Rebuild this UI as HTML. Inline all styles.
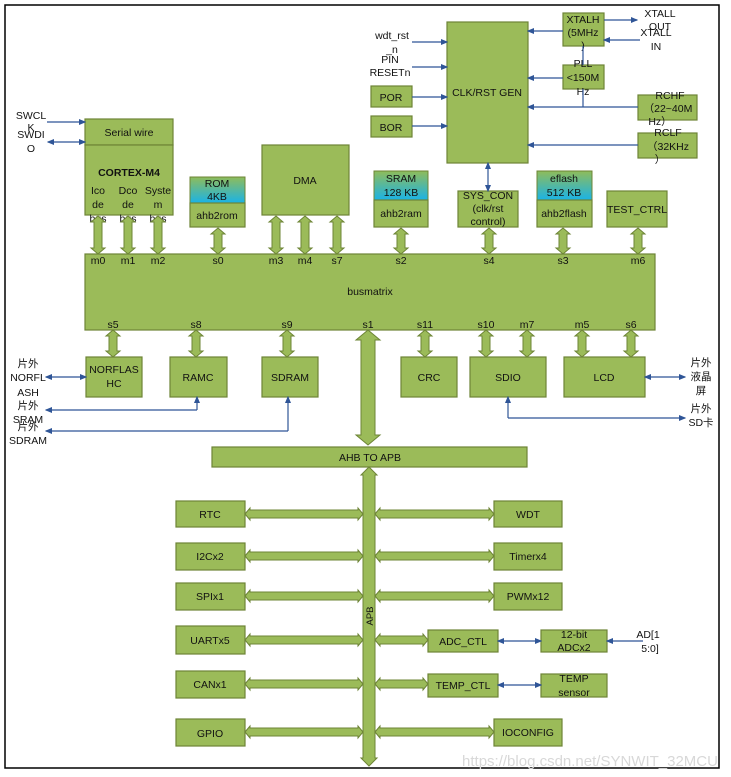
<!DOCTYPE html>
<html><head><meta charset="utf-8"><style>
body{margin:0;background:#fff;}
svg{display:block;font-family:"Liberation Sans","Noto Sans CJK SC",sans-serif;}
text{font-size:10.5px;fill:#111;text-anchor:middle;}
.b{fill:#9bbb59;stroke:#6d8436;stroke-width:1.2;}
.l{stroke:#2f5597;stroke-width:1.2;fill:none;}
</style></head><body>
<svg id="s" width="731" height="777" viewBox="0 0 731 777">
<defs>
<linearGradient id="g" x1="0" y1="0" x2="0" y2="1"><stop offset="0" stop-color="#8fbc5a"/><stop offset="1" stop-color="#1ab3e6"/></linearGradient>
<marker id="a" markerWidth="6" markerHeight="6" refX="5" refY="3" orient="auto"><path d="M0,0.5 L6,3 L0,5.5z" fill="#2f5597"/></marker>
<marker id="a2" markerWidth="6" markerHeight="6" refX="1" refY="3" orient="auto"><path d="M6,0.5 L0,3 L6,5.5z" fill="#2f5597"/></marker>
</defs>
<rect x="5" y="5" width="714" height="763" fill="none" stroke="#000" stroke-width="1.5"/>
<!-- top boxes -->
<rect class="b" x="85" y="119" width="88" height="26"/><text x="129" y="136">Serial wire</text>
<rect class="b" x="85" y="145" width="88" height="70"/><text x="129" y="176" style="font-weight:bold">CORTEX-M4</text>
<text x="98" y="194">Ico</text><text x="98" y="208">de</text><text x="98" y="222">bus</text>
<text x="128" y="194">Dco</text><text x="128" y="208">de</text><text x="128" y="222">bus</text>
<text x="158" y="194">Syste</text><text x="158" y="208">m</text><text x="158" y="222">bus</text>
<rect x="190" y="177" width="55" height="26" fill="url(#g)" stroke="#6d8436"/><text x="217" y="187">ROM</text><text x="217" y="200">4KB</text>
<rect class="b" x="190" y="203" width="55" height="24"/><text x="217" y="219">ahb2rom</text>
<rect class="b" x="262" y="145" width="87" height="70"/><text x="305" y="184">DMA</text>
<rect class="b" x="447" y="22" width="81" height="141"/><text x="487" y="96">CLK/RST GEN</text>
<rect class="b" x="563" y="13" width="41" height="33"/><text x="583" y="23">XTALH</text><text x="583" y="36">(5MHz</text><text x="583" y="49">)</text>
<rect class="b" x="563" y="65" width="41" height="24"/><text x="583" y="67">PLL</text><text x="583" y="81">&lt;150M</text><text x="583" y="95">Hz</text>
<rect class="b" x="638" y="95" width="59" height="25"/><text x="670" y="99">RCHF</text><text x="668" y="112">（22~40M</text><text x="660" y="125">Hz）</text>
<rect class="b" x="638" y="133" width="59" height="25"/><text x="668" y="136">RCLF</text><text x="668" y="150">（32KHz</text><text x="660" y="163">）</text>
<rect class="b" x="371" y="86" width="41" height="21"/><text x="391" y="101">POR</text>
<rect class="b" x="371" y="116" width="41" height="21"/><text x="391" y="131">BOR</text>
<rect x="374" y="171" width="54" height="29" fill="url(#g)" stroke="#6d8436"/><text x="401" y="182">SRAM</text><text x="401" y="196">128 KB</text>
<rect class="b" x="374" y="200" width="54" height="27"/><text x="401" y="217">ahb2ram</text>
<rect class="b" x="458" y="191" width="60" height="36"/><text x="488" y="199">SYS_CON</text><text x="488" y="212">(clk/rst</text><text x="488" y="225">control)</text>
<rect x="537" y="171" width="55" height="29" fill="url(#g)" stroke="#6d8436"/><text x="564" y="182">eflash</text><text x="564" y="196">512 KB</text>
<rect class="b" x="537" y="200" width="55" height="27"/><text x="564" y="217">ahb2flash</text>
<rect class="b" x="607" y="191" width="60" height="36"/><text x="637" y="213">TEST_CTRL</text>
<!-- busmatrix -->
<rect class="b" x="85" y="254" width="570" height="76"/><text x="370" y="295">busmatrix</text>
<text x="98" y="264">m0</text><text x="128" y="264">m1</text><text x="158" y="264">m2</text><text x="218" y="264">s0</text><text x="276" y="264">m3</text><text x="305" y="264">m4</text><text x="337" y="264">s7</text><text x="401" y="264">s2</text><text x="489" y="264">s4</text><text x="563" y="264">s3</text><text x="638" y="264">m6</text>
<text x="113" y="328">s5</text><text x="196" y="328">s8</text><text x="287" y="328">s9</text><text x="368" y="328">s1</text><text x="425" y="328">s11</text><text x="486" y="328">s10</text><text x="527" y="328">m7</text><text x="582" y="328">m5</text><text x="631" y="328">s6</text>
<rect class="b" x="86" y="357" width="56" height="40"/><text x="114" y="373">NORFLAS</text><text x="114" y="387">HC</text>
<rect class="b" x="170" y="357" width="57" height="40"/><text x="198" y="381">RAMC</text>
<rect class="b" x="262" y="357" width="56" height="40"/><text x="290" y="381">SDRAM</text>
<rect class="b" x="401" y="357" width="56" height="40"/><text x="429" y="381">CRC</text>
<rect class="b" x="470" y="357" width="76" height="40"/><text x="508" y="381">SDIO</text>
<rect class="b" x="564" y="357" width="81" height="40"/><text x="604" y="381">LCD</text>
<rect class="b" x="212" y="447" width="315" height="20"/><text x="370" y="461">AHB TO APB</text>
<!-- apb boxes -->
<rect class="b" x="176" y="501" width="69" height="26"/><text x="210" y="518">RTC</text>
<rect class="b" x="176" y="543" width="69" height="27"/><text x="210" y="560">I2Cx2</text>
<rect class="b" x="176" y="583" width="69" height="27"/><text x="210" y="600">SPIx1</text>
<rect class="b" x="176" y="626" width="69" height="28"/><text x="210" y="644">UARTx5</text>
<rect class="b" x="176" y="671" width="69" height="27"/><text x="210" y="688">CANx1</text>
<rect class="b" x="176" y="719" width="69" height="27"/><text x="210" y="737">GPIO</text>
<rect class="b" x="494" y="501" width="68" height="26"/><text x="528" y="518">WDT</text>
<rect class="b" x="494" y="543" width="68" height="27"/><text x="528" y="560">Timerx4</text>
<rect class="b" x="494" y="583" width="68" height="27"/><text x="528" y="600">PWMx12</text>
<rect class="b" x="428" y="630" width="70" height="22"/><text x="463" y="645">ADC_CTL</text>
<rect class="b" x="541" y="630" width="66" height="22"/><text x="574" y="638">12-bit</text><text x="574" y="651">ADCx2</text>
<rect class="b" x="428" y="674" width="70" height="23"/><text x="463" y="689">TEMP_CTL</text>
<rect class="b" x="541" y="674" width="66" height="23"/><text x="574" y="682">TEMP</text><text x="574" y="696">sensor</text>
<rect class="b" x="494" y="719" width="68" height="27"/><text x="528" y="736">IOCONFIG</text>
<!-- thin lines -->
<line class="l" x1="47" y1="122" x2="85" y2="122" marker-end="url(#a)"/>
<line class="l" x1="48" y1="142" x2="85" y2="142" marker-end="url(#a)" marker-start="url(#a2)"/>
<line class="l" x1="412" y1="42" x2="447" y2="42" marker-end="url(#a)"/>
<line class="l" x1="412" y1="67" x2="447" y2="67" marker-end="url(#a)"/>
<line class="l" x1="412" y1="97" x2="447" y2="97" marker-end="url(#a)"/>
<line class="l" x1="412" y1="126" x2="447" y2="126" marker-end="url(#a)"/>
<line class="l" x1="563" y1="31" x2="528" y2="31" marker-end="url(#a)"/>
<line class="l" x1="563" y1="78" x2="528" y2="78" marker-end="url(#a)"/>
<line class="l" x1="638" y1="107" x2="528" y2="107" marker-end="url(#a)"/>
<line class="l" x1="638" y1="145" x2="528" y2="145" marker-end="url(#a)"/>
<line class="l" x1="583" y1="46" x2="583" y2="65"/>
<line class="l" x1="583" y1="89" x2="583" y2="107"/>
<line class="l" x1="604" y1="20" x2="637" y2="20" marker-end="url(#a)"/>
<line class="l" x1="640" y1="40" x2="604" y2="40" marker-end="url(#a)"/>
<line class="l" x1="488" y1="163" x2="488" y2="191" marker-end="url(#a)" marker-start="url(#a2)"/>
<line class="l" x1="46" y1="377" x2="86" y2="377" marker-end="url(#a)" marker-start="url(#a2)"/>
<line class="l" x1="46" y1="410" x2="197" y2="410" marker-start="url(#a2)"/>
<line class="l" x1="197" y1="397" x2="197" y2="410" marker-start="url(#a2)"/>
<line class="l" x1="46" y1="431" x2="288" y2="431" marker-start="url(#a2)"/>
<line class="l" x1="288" y1="397" x2="288" y2="431" marker-start="url(#a2)"/>
<line class="l" x1="645" y1="377" x2="685" y2="377" marker-end="url(#a)" marker-start="url(#a2)"/>
<line class="l" x1="508" y1="397" x2="508" y2="418" marker-start="url(#a2)"/>
<line class="l" x1="508" y1="418" x2="685" y2="418" marker-end="url(#a)"/>
<line class="l" x1="498" y1="641" x2="541" y2="641" marker-end="url(#a)" marker-start="url(#a2)"/>
<line class="l" x1="643" y1="641" x2="607" y2="641" marker-end="url(#a)"/>
<line class="l" x1="498" y1="685" x2="541" y2="685" marker-end="url(#a)" marker-start="url(#a2)"/>
<!-- outside labels -->
<text x="31" y="119">SWCL</text><text x="31" y="131">K</text><text x="31" y="138">SWDI</text><text x="31" y="152">O</text>
<text x="392" y="39">wdt_rst</text><text x="392" y="53">_n</text><text x="390" y="63">PIN</text><text x="390" y="76">RESETn</text>
<text x="660" y="17">XTALL</text><text x="660" y="30">OUT</text><text x="656" y="36">XTALL</text><text x="656" y="50">IN</text>
<text x="28" y="367">片外</text><text x="28" y="381">NORFL</text><text x="28" y="396">ASH</text>
<text x="28" y="409">片外</text><text x="28" y="423">SRAM</text><text x="28" y="430">片外</text><text x="28" y="444">SDRAM</text>
<text x="701" y="366">片外</text><text x="701" y="380">液晶</text><text x="701" y="394">屏</text>
<text x="701" y="412">片外</text><text x="701" y="426">SD卡</text>
<text x="648" y="638">AD[1</text><text x="650" y="652">5:0]</text>
<text x="590" y="766" style="font-size:15px;fill:#d8d8d8">https://blog.csdn.net/SYNWIT_32MCU</text>
<g id="arrows"></g>
<text x="0" y="0" transform="translate(373,616) rotate(-90)" style="font-size:9.5px">APB</text>
</svg>
<script>
var g=document.getElementById('arrows'),ns='http://www.w3.org/2000/svg';
function P(pts){var p=document.createElementNS(ns,'polygon');p.setAttribute('points',pts.map(function(a){return a.join(',')}).join(' '));p.setAttribute('fill','#9bbb59');p.setAttribute('stroke','#6d8436');p.setAttribute('stroke-width','1');g.appendChild(p);}
function V(x,y1,y2,s,h,l){s=s||4;h=h||7;l=l||6;P([[x,y1],[x+h,y1+l],[x+s,y1+l],[x+s,y2-l],[x+h,y2-l],[x,y2],[x-h,y2-l],[x-s,y2-l],[x-s,y1+l],[x-h,y1+l]]);}
function H(y,x1,x2){var s=4,h=6,l=5;P([[x1,y],[x1+l,y-h],[x1+l,y-s],[x2-l,y-s],[x2-l,y-h],[x2,y],[x2-l,y+h],[x2-l,y+s],[x1+l,y+s],[x1+l,y+h]]);}
[98,128,158,276,305,337].forEach(function(x){V(x,216,254);});
[218,401,489,563,638].forEach(function(x){V(x,228,254);});
[113,196,287,425,486,527,582,631].forEach(function(x){V(x,330,357);});
V(368,330,445,7,12,10);
V(369,467,766,6,8,8);
[514,556,596,640,684,732].forEach(function(y){H(y,245,363);});
H(514,375,494);H(556,375,494);H(596,375,494);H(640,375,428);H(684,375,428);H(732,375,494);
</script>
</body></html>
